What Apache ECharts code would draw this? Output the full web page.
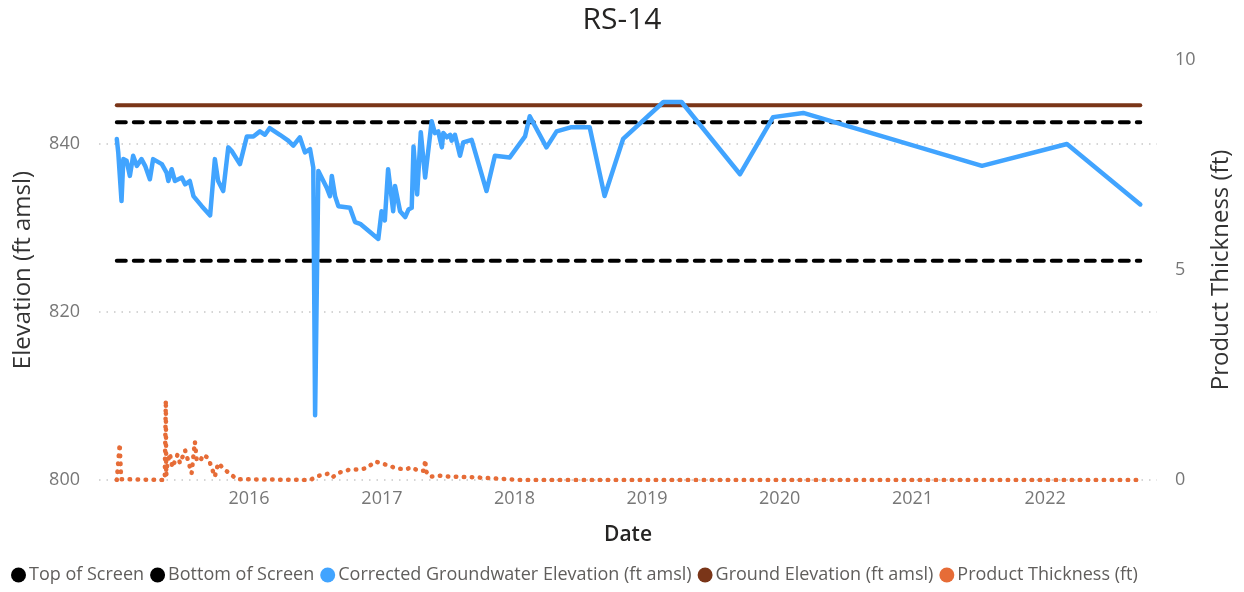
<!DOCTYPE html>
<html>
<head>
<meta charset="utf-8">
<script src="https://cdn.jsdelivr.net/npm/echarts@6/dist/echarts.min.js"></script>
<style>
  html, body { margin: 0; padding: 0; background: #ffffff; }
  #chart { width: 1244px; height: 592px; }
</style>
</head>
<body>
<div id="chart"></div>
<script>
// ---- Data ----
const chartTitle = 'RS-14';
const seriesNames = ['Top of Screen', 'Bottom of Screen', 'Corrected Groundwater Elevation (ft amsl)', 'Ground Elevation (ft amsl)', 'Product Thickness (ft)'];

const topOfScreen = 842.6;
const bottomOfScreen = 826.1;
const groundElevation = 844.6;

const gwDates = [
  '2015-01-02','2015-01-06','2015-01-15','2015-01-20','2015-01-29','2015-02-07','2015-02-16','2015-02-26',
  '2015-03-11','2015-03-21','2015-04-03','2015-04-12','2015-05-06','2015-05-19','2015-05-24','2015-06-02',
  '2015-06-11','2015-06-30','2015-07-09','2015-07-22','2015-08-01','2015-08-24','2015-09-16','2015-09-29',
  '2015-10-08','2015-10-22','2015-11-05','2015-11-14','2015-12-07','2015-12-26','2016-01-13','2016-01-31',
  '2016-02-14','2016-02-27','2016-03-26','2016-04-18','2016-05-02','2016-05-20','2016-06-03','2016-06-17',
  '2016-06-26','2016-07-01','2016-07-10','2016-08-02','2016-08-11','2016-08-16','2016-08-25','2016-09-03',
  '2016-10-05','2016-10-19','2016-11-02','2016-12-22','2016-12-31','2017-01-09','2017-01-18','2017-02-01',
  '2017-02-06','2017-02-20','2017-03-06','2017-03-15','2017-03-24','2017-03-29','2017-04-08','2017-04-18',
  '2017-04-30','2017-05-18','2017-05-27','2017-06-05','2017-06-15','2017-06-19','2017-06-29','2017-07-08',
  '2017-07-12','2017-07-21','2017-08-04','2017-08-13','2017-09-05','2017-10-16','2017-11-08','2017-12-19',
  '2018-01-30','2018-02-12','2018-03-30','2018-04-27','2018-06-07','2018-07-27','2018-09-06','2018-10-27',
  '2019-02-15','2019-04-06','2019-09-14','2019-12-14','2020-03-06','2021-07-11','2022-03-02','2022-09-20'
];
const gwValues = [
  840.6, 839.0, 833.2, 838.2, 838.0, 836.2, 838.6, 837.4,
  838.2, 837.4, 835.8, 838.2, 837.6, 836.6, 835.6, 837.0,
  835.6, 836.0, 835.2, 835.6, 833.8, 832.6, 831.5, 838.2,
  835.6, 834.4, 839.6, 839.2, 837.6, 840.9, 840.9, 841.5,
  841.1, 841.9, 841.1, 840.4, 839.8, 840.8, 839.0, 839.4,
  837.2, 807.7, 836.8, 834.8, 833.8, 836.2, 833.8, 832.6,
  832.4, 830.7, 830.5, 828.7, 832.0, 830.9, 837.0, 832.0,
  835.0, 832.0, 831.3, 832.2, 832.4, 839.7, 834.0, 841.4,
  836.0, 842.7, 841.3, 841.5, 839.6, 841.3, 840.8, 841.1,
  840.4, 841.1, 838.6, 840.2, 840.5, 834.4, 838.6, 838.4,
  840.9, 843.3, 839.6, 841.5, 842.0, 842.0, 833.8, 840.6,
  845.0, 845.0, 836.4, 843.2, 843.7, 837.4, 840.0, 832.8
];

const ptDates = [
  '2015-01-02','2015-01-10','2015-01-14','2015-05-14','2015-05-17','2015-05-18','2015-05-21','2015-05-28',
  '2015-06-04','2015-06-11','2015-06-18','2015-06-25','2015-07-02','2015-07-09','2015-07-18','2015-07-27',
  '2015-08-05','2015-08-10','2015-08-19','2015-08-28','2015-09-11','2015-09-29','2015-10-08','2015-10-27',
  '2015-11-14','2015-11-28','2016-06-17','2016-07-11','2016-08-11','2016-08-20','2016-09-07','2016-10-05',
  '2016-10-28','2016-11-20','2016-12-13','2016-12-31','2017-01-23','2017-02-10','2017-03-06','2017-03-24',
  '2017-04-11','2017-04-27','2017-04-30','2017-05-03','2017-05-13','2017-06-10','2017-07-08','2017-08-31',
  '2017-11-22','2018-01-16','2022-09-20'
];
const ptValues = [
  0.00, 0.86, 0.02, 0.00, 1.90, 0.10, 0.36, 0.63,
  0.30, 0.45, 0.60, 0.40, 0.55, 0.71, 0.44, 0.16,
  0.91, 0.48, 0.44, 0.60, 0.52, 0.08, 0.40, 0.24,
  0.12, 0.02, 0.00, 0.10, 0.16, 0.08, 0.18, 0.25,
  0.25, 0.28, 0.44, 0.40, 0.33, 0.28, 0.25, 0.30,
  0.22, 0.22, 0.48, 0.20, 0.08, 0.10, 0.08, 0.07,
  0.03, 0.00, 0.00
];

const xAxisMin = '2014-11-14';
const xAxisMax = '2022-11-05';
const firstLabelYear = 2016;

// ---- Build series data ----
const pair = (dates, vals) => dates.map((d, i) => [d, vals[i]]);
const firstDate = gwDates[0];
const lastDate = gwDates[gwDates.length - 1];
const flat = v => [[firstDate, v], [lastDate, v]];

const FONT = '"Open Sans", "Noto Sans", sans-serif';
const DAY = 24 * 3600 * 1000;

const chart = echarts.init(document.getElementById('chart'), null, { renderer: 'canvas' });
chart.setOption({
  animation: false,
  backgroundColor: '#ffffff',
  textStyle: { fontFamily: FONT },
  title: {
    text: chartTitle,
    left: 'center',
    top: 0,
    textStyle: { fontFamily: FONT, fontSize: 30, fontWeight: 'normal', color: '#252423' }
  },
  legend: {
    data: seriesNames,
    left: 6,
    top: 561,
    icon: 'circle',
    itemWidth: 15,
    itemHeight: 15,
    itemGap: 6,
    textStyle: { fontFamily: FONT, fontSize: 18, color: '#605E5C', padding: [0, 0, 0, -2] }
  },
  grid: { left: 99, right: 87, top: 60, bottom: 112, containLabel: false },
  xAxis: {
    type: 'time',
    min: xAxisMin,
    max: xAxisMax,
    minInterval: 365 * DAY,
    name: 'Date',
    nameLocation: 'middle',
    nameGap: 45,
    nameTextStyle: { fontFamily: FONT, fontSize: 21, fontWeight: 600, color: '#252423' },
    axisLine: { show: false },
    axisTick: { show: false },
    splitLine: { show: false },
    axisLabel: {
      fontFamily: FONT, fontSize: 18, color: '#777777', margin: 10,
      showMinLabel: false, showMaxLabel: false,
      formatter: function (v) {
        const d = new Date(v);
        const y = d.getFullYear();
        if (d.getMonth() === 0 && d.getDate() === 1 && y >= firstLabelYear) return String(y);
        return '';
      }
    }
  },
  yAxis: [
    {
      type: 'value',
      min: 800,
      max: 850,
      interval: 20,
      position: 'left',
      name: 'Elevation (ft amsl)',
      nameLocation: 'middle',
      nameGap: 64,
      nameTextStyle: { fontFamily: FONT, fontSize: 24, color: '#333333' },
      axisLine: { show: false },
      axisTick: { show: false },
      axisLabel: { fontFamily: FONT, fontSize: 18, color: '#777777', margin: 19, showMaxLabel: false },
      splitLine: {
        show: true,
        lineStyle: { color: ['#c8c8c8', '#c8c8c8', '#c8c8c8', 'rgba(0,0,0,0)'], type: [1.5, 6], width: 1.5 }
      }
    },
    {
      type: 'value',
      min: 0,
      max: 10,
      interval: 5,
      position: 'right',
      name: 'Product Thickness (ft)',
      nameLocation: 'middle',
      nameGap: 52,
      nameTextStyle: { fontFamily: FONT, fontSize: 24, color: '#333333' },
      axisLine: { show: false },
      axisTick: { show: false },
      axisLabel: { fontFamily: FONT, fontSize: 18, color: '#777777', margin: 18 },
      splitLine: { show: false }
    }
  ],
  series: [
    {
      name: seriesNames[0], type: 'line', yAxisIndex: 0, data: flat(topOfScreen),
      showSymbol: false, symbol: 'none', color: '#000000', z: 2,
      lineStyle: { color: '#000000', width: 4, type: [9, 8], cap: 'round' }
    },
    {
      name: seriesNames[1], type: 'line', yAxisIndex: 0, data: flat(bottomOfScreen),
      showSymbol: false, symbol: 'none', color: '#000000', z: 2,
      lineStyle: { color: '#000000', width: 4, type: [9, 8], cap: 'round' }
    },
    {
      name: seriesNames[3], type: 'line', yAxisIndex: 0, data: flat(groundElevation),
      showSymbol: false, symbol: 'none', color: '#7A3518', z: 2,
      lineStyle: { color: '#7A3518', width: 4, cap: 'round' }
    },
    {
      name: seriesNames[2], type: 'line', yAxisIndex: 0, data: pair(gwDates, gwValues),
      showSymbol: false, symbol: 'none', color: '#41A4FF', z: 3,
      lineStyle: { color: '#41A4FF', width: 4.5, join: 'round', cap: 'round' }
    },
    {
      name: seriesNames[4], type: 'line', yAxisIndex: 1, data: pair(ptDates, ptValues),
      showSymbol: false, symbol: 'none', color: '#E66C37', z: 4,
      lineStyle: { color: '#E66C37', width: 4.5, type: [0.5, 7.5], cap: 'round', join: 'round' }
    }
  ]
});
</script>
</body>
</html>
